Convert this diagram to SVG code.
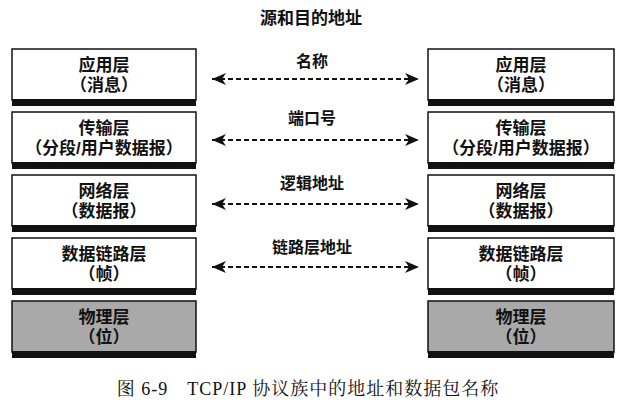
<svg xmlns="http://www.w3.org/2000/svg" width="621" height="405" viewBox="0 0 621 405">
<style>
.box{fill:#fff;stroke:#111;stroke-width:1.5}
.phys{fill:#a9a9a9;stroke:#111;stroke-width:1.5}
.band{fill:#111}
.t{font-family:"Liberation Sans","Noto Sans CJK SC",sans-serif;font-size:17px;font-weight:bold;fill:#111;text-anchor:middle}
.lbl{font-family:"Liberation Sans","Noto Sans CJK SC",sans-serif;font-size:16px;font-weight:bold;fill:#111;text-anchor:middle}
.cap{font-family:"Liberation Serif","Noto Serif CJK SC","Noto Sans CJK SC",serif;font-size:18px;letter-spacing:1px;fill:#111;text-anchor:middle}
.arr{stroke:#111;stroke-width:2;stroke-dasharray:5 3;fill:none}
</style>
<defs>
<marker id="ah" viewBox="0 0 14 12" refX="14" refY="6" markerWidth="14" markerHeight="12" markerUnits="userSpaceOnUse" orient="auto-start-reverse">
<path d="M0,0 L14,6 L0,12 L4,6 Z" fill="#111"/>
</marker>
</defs>
<rect width="621" height="405" fill="#fff"/>
<text class="t" x="311" y="24">源和目的地址</text>

<g id="left-app"><rect class="box" x="12" y="49" width="184" height="51"/><rect class="band" x="12" y="99" width="184" height="7"/><text class="t" x="104" y="71">应用层</text><text class="t" x="104" y="91">（消息）</text></g>
<g id="left-transport"><rect class="box" x="12" y="112" width="184" height="51"/><rect class="band" x="12" y="162" width="184" height="7"/><text class="t" x="104" y="134">传输层</text><text class="t" x="104" y="154">（分段/用户数据报）</text></g>
<g id="left-network"><rect class="box" x="12" y="175" width="184" height="51"/><rect class="band" x="12" y="225" width="184" height="7"/><text class="t" x="104" y="197">网络层</text><text class="t" x="104" y="217">（数据报）</text></g>
<g id="left-link"><rect class="box" x="12" y="238" width="184" height="51"/><rect class="band" x="12" y="288" width="184" height="7"/><text class="t" x="104" y="260">数据链路层</text><text class="t" x="104" y="280">（帧）</text></g>
<g id="left-phys"><rect class="phys" x="12" y="301" width="184" height="51"/><rect class="band" x="12" y="351" width="184" height="7"/><text class="t" x="104" y="323">物理层</text><text class="t" x="104" y="343">（位）</text></g>

<g id="right-app"><rect class="box" x="428" y="49" width="186" height="51"/><rect class="band" x="428" y="99" width="186" height="7"/><text class="t" x="521" y="71">应用层</text><text class="t" x="521" y="91">（消息）</text></g>
<g id="right-transport"><rect class="box" x="428" y="112" width="186" height="51"/><rect class="band" x="428" y="162" width="186" height="7"/><text class="t" x="521" y="134">传输层</text><text class="t" x="521" y="154">（分段/用户数据报）</text></g>
<g id="right-network"><rect class="box" x="428" y="175" width="186" height="51"/><rect class="band" x="428" y="225" width="186" height="7"/><text class="t" x="521" y="197">网络层</text><text class="t" x="521" y="217">（数据报）</text></g>
<g id="right-link"><rect class="box" x="428" y="238" width="186" height="51"/><rect class="band" x="428" y="288" width="186" height="7"/><text class="t" x="521" y="260">数据链路层</text><text class="t" x="521" y="280">（帧）</text></g>
<g id="right-phys"><rect class="phys" x="428" y="301" width="186" height="51"/><rect class="band" x="428" y="351" width="186" height="7"/><text class="t" x="521" y="323">物理层</text><text class="t" x="521" y="343">（位）</text></g>

<g id="connectors">
<line class="arr" x1="212" y1="79" x2="419" y2="79" marker-start="url(#ah)" marker-end="url(#ah)"/>
<line class="arr" x1="212" y1="140" x2="419" y2="140" marker-start="url(#ah)" marker-end="url(#ah)"/>
<line class="arr" x1="212" y1="204" x2="419" y2="204" marker-start="url(#ah)" marker-end="url(#ah)"/>
<line class="arr" x1="212" y1="267" x2="419" y2="267" marker-start="url(#ah)" marker-end="url(#ah)"/>
<text class="lbl" x="312" y="67">名称</text>
<text class="lbl" x="312" y="124">端口号</text>
<text class="lbl" x="312" y="189">逻辑地址</text>
<text class="lbl" x="312" y="253">链路层地址</text>
</g>
<text class="cap" x="308" y="395">图 6-9　TCP/IP 协议族中的地址和数据包名称</text>
</svg>
